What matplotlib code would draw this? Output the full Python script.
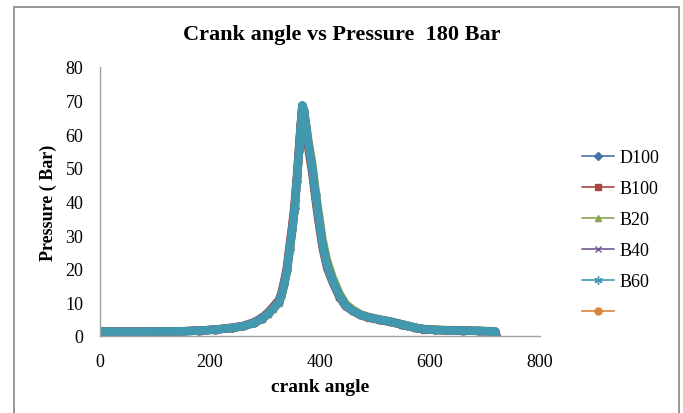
"""
plot.py - crank angle vs cylinder pressure at 180 bar injection pressure.
"""

import matplotlib
matplotlib.use("Agg")
import matplotlib.pyplot as plt
from matplotlib.patches import Rectangle

plt.rcParams["font.family"] = ["Liberation Serif", "DejaVu Serif"]

crank_angle = [0, 30, 60, 90, 120, 150, 180, 210, 240, 260, 280, 295, 305,
               315, 325, 330, 335, 340, 345, 350, 354, 358, 362, 365, 368,
               371, 375, 380, 386, 392, 397, 405, 413, 423, 435, 447, 460,
               475, 490, 510, 530, 550, 560, 575, 590, 610, 630, 660, 690,
               719, 720]

d100 = [1.3, 1.3, 1.3, 1.3, 1.35, 1.4, 1.6, 1.9, 2.4, 2.9, 3.9, 5.2, 6.5,
        8.2, 10.0, 12.0, 15.5, 19.5, 26.0, 32.0, 38.0, 46.0, 55.0, 62.0, 68.5,
        67.0, 62.0, 56.0, 50.0, 42.0, 36.0, 27.0, 21.0, 16.5, 12.0, 9.0, 7.5,
        6.2, 5.5, 4.8, 4.2, 3.4, 3.0, 2.4, 2.0, 1.8, 1.7, 1.6, 1.5,
        1.3, 0.2]
b100 = [1.3, 1.3, 1.3, 1.3, 1.35, 1.45, 1.6, 1.9, 2.5, 3.0, 4.1, 5.5, 6.9,
        8.7, 10.6, 12.8, 16.4, 20.6, 27.4, 33.5, 39.5, 47.5, 56.5, 63.0, 68.0,
        66.0, 60.5, 54.5, 48.5, 40.5, 34.5, 26.0, 20.2, 16.0, 11.7, 8.8, 7.4,
        6.1, 5.4, 4.7, 4.1, 3.3, 2.9, 2.3, 1.9, 1.8, 1.7, 1.6, 1.5,
        1.3, 0.2]
b20 = [1.3, 1.3, 1.3, 1.3, 1.35, 1.4, 1.6, 1.9, 2.4, 2.9, 3.8, 5.1, 6.4,
       8.1, 9.8, 11.8, 15.2, 19.2, 25.5, 31.5, 37.5, 45.5, 54.5, 61.5, 68.0,
       67.2, 62.8, 57.0, 51.5, 43.5, 37.5, 28.5, 22.5, 17.5, 12.8, 9.5, 7.8,
       6.4, 5.6, 4.9, 4.3, 3.5, 3.1, 2.5, 2.1, 1.9, 1.8, 1.7, 1.6,
       1.4, 0.2]
b40 = [1.3, 1.3, 1.3, 1.3, 1.35, 1.4, 1.6, 1.9, 2.4, 2.9, 3.9, 5.2, 6.5,
       8.2, 10.0, 12.1, 15.6, 19.6, 26.2, 32.2, 38.2, 46.2, 55.2, 62.2, 68.4,
       66.8, 61.8, 55.8, 49.8, 41.8, 35.8, 27.0, 21.0, 16.4, 12.0, 9.0, 7.5,
       6.2, 5.5, 4.8, 4.2, 3.4, 3.0, 2.4, 2.0, 1.8, 1.7, 1.6, 1.5,
       1.3, 0.2]
b60 = [1.3, 1.3, 1.3, 1.3, 1.35, 1.4, 1.6, 1.9, 2.4, 2.9, 3.9, 5.2, 6.5,
       8.2, 10.0, 12.0, 15.5, 19.5, 26.0, 32.0, 38.0, 46.0, 55.0, 62.0, 68.6,
       67.0, 62.0, 56.0, 50.0, 42.0, 36.0, 27.0, 21.0, 16.5, 12.0, 9.0, 7.5,
       6.2, 5.5, 4.8, 4.2, 3.4, 3.0, 2.4, 2.0, 1.8, 1.7, 1.6, 1.5,
       1.3, 0.2]

series = [
    ("D100", d100, "#4572A7", "D", 4),
    ("B100", b100, "#AA4643", "s", 5),
    ("B20",  b20,  "#89A54E", "^", 5),
    ("B40",  b40,  "#71588F", "x", 5),
    ("B60",  b60,  "#4198AF", (6, 2, 0), 6),
]

fig = plt.figure(figsize=(6.83, 4.14), dpi=100)
ax = fig.add_axes([0.1464, 0.186, 0.644, 0.650])

handles, labels = [], []
for name, vals, color, marker, ms in series:
    ln, = ax.plot(crank_angle, vals, color=color, lw=6, marker=marker,
                  markersize=ms, solid_capstyle="round", solid_joinstyle="round")
    handles.append(ln)
    labels.append(name)

# empty sixth series, shown only in the legend
empty, = ax.plot([], [], color="#DB843D", marker="o", markersize=5)
handles.append(empty)
labels.append("")

ax.set_xlim(0, 800)
ax.set_ylim(0, 80)
ax.set_xticks(range(0, 801, 200))
ax.set_yticks(range(0, 81, 10))
ax.tick_params(length=0, labelsize=13, pad=12)

for side in ("top", "right"):
    ax.spines[side].set_visible(False)
for side in ("left", "bottom"):
    ax.spines[side].set_color("#A0A0A0")
    ax.spines[side].set_linewidth(1)

ax.set_xlabel("crank angle", fontsize=14, fontweight="bold", labelpad=6)
ax.set_ylabel("Pressure ( Bar)", fontsize=13, fontweight="bold", labelpad=6)
fig.suptitle("Crank angle vs Pressure  180 Bar", fontsize=16,
             fontweight="bold", y=0.94)

leg = fig.legend(handles, labels, loc="upper left",
                 bbox_to_anchor=(0.852, 0.638), frameon=False, fontsize=13,
                 handlelength=1.8, handletextpad=0.3, labelspacing=0.78,
                 borderpad=0, borderaxespad=0)
for ln in leg.get_lines():
    ln.set_linewidth(1.2)

# chart area border
fig.patches.append(Rectangle((0.0205, -0.05), 0.9735, 1.031,
                             transform=fig.transFigure, fill=False,
                             edgecolor="#868686", lw=1.2))

plt.savefig("out.png", dpi=100)
plt.close()
